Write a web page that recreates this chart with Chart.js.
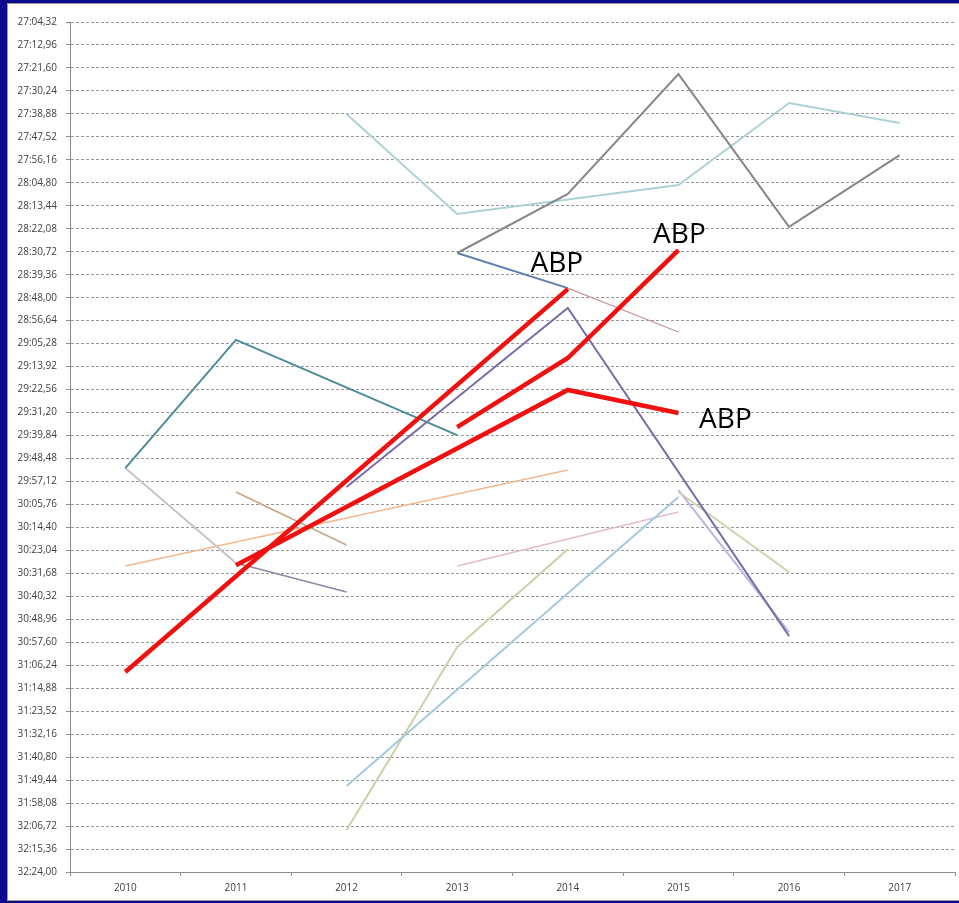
<!DOCTYPE html>
<html>
<head>
<meta charset="utf-8">
<script src="https://cdn.jsdelivr.net/npm/chart.js@4.4.1/dist/chart.umd.min.js"></script>
<style>
  html, body { margin: 0; padding: 0; }
  body { width: 959px; height: 903px; background: #0b0b8c; position: relative; overflow: hidden; }
  #panel { position: absolute; left: 7px; top: 3px; width: 953px; height: 898px; box-sizing: border-box;
           border: 1px solid #9a9a9a; background: #ffffff; }
  #c { position: absolute; left: 0; top: 0; }
</style>
</head>
<body>
<div id="panel"><canvas id="c" width="951" height="896"></canvas></div>
<script>
// Categories
const years = ['2010', '2011', '2012', '2013', '2014', '2015', '2016', '2017'];

// Y tick labels (time, reversed axis)
const yTickLabels = ['27:04,32','27:12,96','27:21,60','27:30,24','27:38,88','27:47,52','27:56,16','28:04,80',
  '28:13,44','28:22,08','28:30,72','28:39,36','28:48,00','28:56,64','29:05,28','29:13,92','29:22,56',
  '29:31,20','29:39,84','29:48,48','29:57,12','30:05,76','30:14,40','30:23,04','30:31,68','30:40,32',
  '30:48,96','30:57,60','31:06,24','31:14,88','31:23,52','31:32,16','31:40,80','31:49,44','31:58,08',
  '32:06,72','32:15,36','32:24,00'];

// Series values (mm:ss,cc per year; null = no value)
const abpA      = ['31:08,8', null, null, null, '28:44,8', null, null, null];
const abpB      = [null, '30:28,6', null, null, '29:22,7', '29:31,4', null, null];
const abpC      = [null, null, null, '29:36,7', '29:10,7', '28:30,1', null, null];
const teal      = ['29:52,1', '29:03,9', null, '29:39,7', null, null, null, null];
const lightGray = ['29:52,1', '30:27,8', null, null, null, null, null, null];
const grayPurple= [null, '30:27,8', '30:38,7', null, null, null, null, null];
const orange    = ['30:28,9', null, null, null, '29:52,8', null, null, null];
const tan       = [null, '30:01,1', '30:21,0', null, null, null, null, null];
const purple    = [null, null, '29:59,2', null, '28:51,9', null, '30:55,3', null];
const darkGray  = [null, null, null, '28:31,2', '28:09,0', '27:23,9', '28:21,4', '27:54,4'];
const lightCyan = [null, null, '27:38,9', '28:16,5', null, '28:05,6', '27:34,8', '27:42,3'];
const steelBlue = [null, null, null, '28:31,2', '28:44,4', null, null, null];
const rosyBrown = [null, null, null, null, '28:44,4', '29:00,9', null, null];
const lightBlue = [null, null, '31:51,7', null, null, '30:03,0', null, null];
const khaki     = [null, null, '32:08,2', '30:59,4', '30:22,6', null, null, null];
const pink      = [null, null, null, '30:28,9', null, '30:08,6', null, null];
const beige     = [null, null, null, null, null, '30:01,1', '30:31,2', null];
const lavender  = [null, null, null, null, null, '30:00,4', '30:53,8', null];

function toSec(s) {
  if (s === null) return null;
  const [m, rest] = s.split(':');
  return parseInt(m, 10) * 60 + parseFloat(rest.replace(',', '.'));
}
const yTickValues = yTickLabels.map(toSec);

function ds(label, arr, color, width) {
  return { label, data: arr.map(toSec), borderColor: color, backgroundColor: color,
           borderWidth: width, pointRadius: 0, tension: 0, spanGaps: true, fill: false };
}

const datasets = [
  ds('ABP 1', abpA, '#f01010', 4.5),
  ds('ABP 2', abpB, '#f01010', 4.5),
  ds('ABP 3', abpC, '#f01010', 4.5),
  ds('s1', teal, '#4c8c98', 2),
  ds('s2', lightGray, '#c4c4cc', 2),
  ds('s3', grayPurple, '#8a88a6', 1.5),
  ds('s4', orange, '#f2b88c', 1.5),
  ds('s5', tan, '#c9a482', 1.5),
  ds('s6', purple, '#7c6ca8', 2),
  ds('s7', darkGray, '#86868c', 2),
  ds('s8', lightCyan, '#acd2d8', 2),
  ds('s9', steelBlue, '#5e7fb0', 2),
  ds('s10', rosyBrown, '#c49898', 1.2),
  ds('s11', lightBlue, '#a2cade', 2),
  ds('s12', khaki, '#cbcfa4', 2),
  ds('s13', pink, '#e2bccb', 1.5),
  ds('s14', beige, '#d2d3ae', 2),
  ds('s15', lavender, '#bcb4e2', 2)
];

// "ABP" annotations anchored to the red series' points
const abpLabels = [
  { text: 'ABP', ds: 0, idx: 4, dx: -11, dy: -17 },
  { text: 'ABP', ds: 2, idx: 5, dx: 1, dy: -7 },
  { text: 'ABP', ds: 1, idx: 5, dx: 47, dy: 15 }
];

const labelPlugin = {
  id: 'abpLabels',
  afterDatasetsDraw(chart) {
    const ctx = chart.ctx;
    const xs = chart.scales.x, ys = chart.scales.y;
    ctx.save();
    ctx.font = '28px "Open Sans"';
    ctx.fillStyle = '#000000';
    ctx.textAlign = 'center';
    ctx.textBaseline = 'alphabetic';
    abpLabels.forEach(l => {
      const v = chart.data.datasets[l.ds].data[l.idx];
      const x = xs.getPixelForValue(l.idx);
      const y = ys.getPixelForValue(v);
      ctx.fillText(l.text, x + l.dx, y + l.dy);
    });
    ctx.restore();
  }
};

new Chart(document.getElementById('c'), {
  type: 'line',
  data: { labels: years, datasets },
  options: {
    responsive: false,
    animation: false,
    layout: { padding: { top: 18, right: 4, left: 0, bottom: 0 } },
    plugins: { legend: { display: false }, tooltip: { enabled: false } },
    scales: {
      x: {
        type: 'category',
        offset: true,
        grid: { offset: true, drawOnChartArea: false, drawTicks: true, tickLength: 4, color: '#8c8c8c' },
        border: { color: '#8c8c8c', width: 1 },
        ticks: { color: '#404040', font: { family: '"Open Sans"', size: 10 }, padding: 6, maxRotation: 0, autoSkip: false },
        afterFit(scale) { scale.height = 28; }
      },
      y: {
        reverse: true,
        min: yTickValues[0],
        max: yTickValues[yTickValues.length - 1],
        afterBuildTicks(scale) { scale.ticks = yTickValues.map(v => ({ value: v })); },
        grid: { color: '#999999', lineWidth: 1, tickLength: 4, tickColor: '#8c8c8c', tickBorderDash: [] },
        border: { color: '#8c8c8c', width: 1, dash: [3, 2] },
        ticks: {
          color: '#404040', font: { family: '"Open Sans"', size: 10 }, padding: 9, autoSkip: false,
          callback(value, index) { return yTickLabels[index]; }
        },
        afterFit(scale) { scale.width = 62; }
      }
    }
  },
  plugins: [labelPlugin]
});
</script>
</body>
</html>
